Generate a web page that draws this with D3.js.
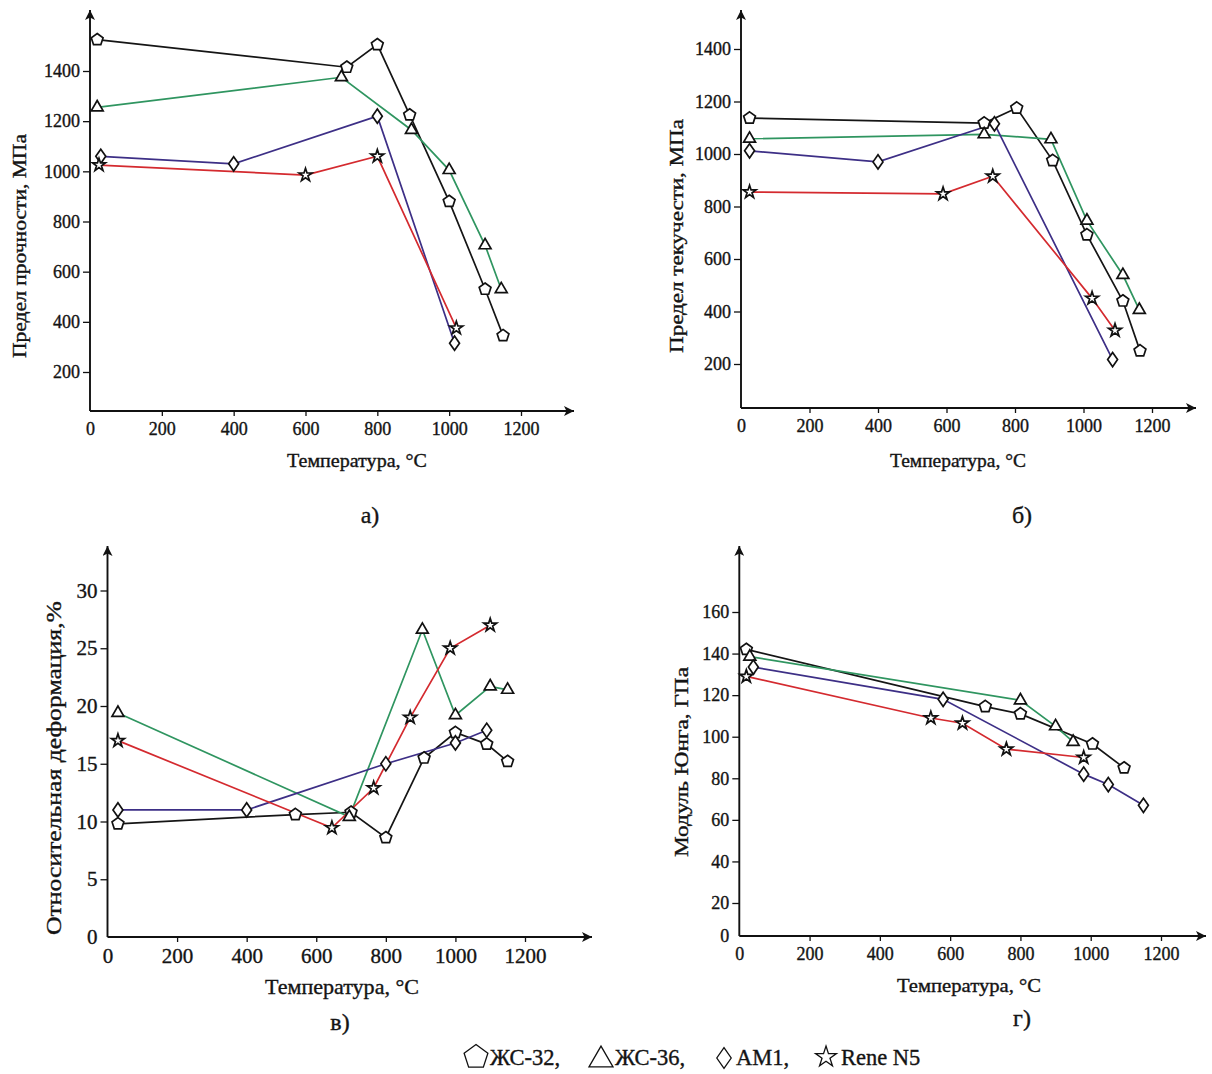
<!DOCTYPE html>
<html>
<head>
<meta charset="utf-8">
<script src="https://cdn.jsdelivr.net/npm/d3@7"></script>
<style>
  body { margin: 0; background: #fff; }
  svg { display: block; }
  text { font-family: "Liberation Serif", "Times New Roman", serif; fill: #141414; stroke: #141414; stroke-width: 0.35px; }
</style>
</head>
<body>
<svg id="fig" width="1212" height="1074"></svg>
<script>
// ---- data: [temperature °C, value] ----
const alloyNames = ["ЖС-32", "ЖС-36", "AM1", "Rene N5"];
const temperatureTicks = [0, 200, 400, 600, 800, 1000, 1200];
const strengthTicks = [200, 400, 600, 800, 1000, 1200, 1400];
const elongationTicks = [0, 5, 10, 15, 20, 25, 30];
const modulusTicks = [0, 20, 40, 60, 80, 100, 120, 140, 160];

// а) ultimate tensile strength, MPa
const utsZhs32 = [[20,1525],[715,1415],[800,1505],[890,1225],[1000,880],[1100,530],[1150,345]];
const utsZhs36 = [[20,1255],[700,1375],[895,1165],[1000,1005],[1100,705],[1145,530]];
const utsAm1   = [[30,1060],[400,1030],[800,1220],[1015,315]];
const utsReneN5 = [[25,1025],[600,985],[800,1060],[1020,375]];

// б) yield strength, MPa
const ysZhs32 = [[25,1137],[710,1118],[805,1175],[910,975],[1010,692],[1115,440],[1165,250]];
const ysZhs36 = [[25,1058],[710,1075],[905,1056],[1010,746],[1115,539],[1163,406]];
const ysAm1   = [[25,1012],[400,970],[740,1115],[1085,217]];
const ysReneN5 = [[25,855],[590,848],[735,915],[1025,450],[1092,328]];

// в) relative elongation, %
const elZhs32 = [[30,9.8],[540,10.6],[700,10.8],[800,8.6],[910,15.5],[1000,17.7],[1090,16.7],[1150,15.2]];
const elZhs36 = [[30,19.4],[695,10.4],[905,26.6],[1000,19.2],[1100,21.7],[1150,21.4]];
const elAm1   = [[30,11.0],[400,11.0],[800,15.0],[1000,16.8],[1090,17.9]];
const elReneN5 = [[30,17.0],[645,9.45],[765,12.9],[870,19.0],[985,25.0],[1100,27.0]];

// г) Young's modulus, GPa
const emZhs32 = [[20,142],[700,114.5],[800,111],[1005,96.5],[1095,85]];
const emZhs36 = [[30,138.5],[800,117.5],[900,105],[950,97.5]];
const emAm1   = [[40,133.5],[580,118],[980,82],[1050,77],[1150,67]];
const emReneN5 = [[20,129],[545,109],[635,106.5],[760,94],[980,90]];

// ---- styling ----
const lineColors = ["#151515", "#2f9560", "#3d2f86", "#d42a2f"];
const markerKinds = ["pentagon", "triangle", "diamond", "star"];

function markerPath(kind, r) {
  if (kind === "pentagon") {
    const pts = d3.range(5).map(i => {
      const a = -Math.PI / 2 + i * 2 * Math.PI / 5;
      return [r * Math.cos(a), r * Math.sin(a)];
    });
    return d3.line()(pts) + "Z";
  }
  if (kind === "diamond") {
    return d3.line()([[0, -r * 1.15], [r * 0.8, 0], [0, r * 1.15], [-r * 0.8, 0]]) + "Z";
  }
  if (kind === "triangle") {
    return d3.symbol(d3.symbolTriangle, r * r * 1.6)().toString();
  }
  return d3.symbol(d3.symbolStar, r * r * 1.35)().toString();
}

const svg = d3.select("#fig");
const defs = svg.append("defs");
defs.append("marker")
  .attr("id", "arrowhead").attr("viewBox", "0 0 10 10")
  .attr("refX", 10).attr("refY", 5)
  .attr("markerWidth", 10).attr("markerHeight", 10)
  .attr("markerUnits", "userSpaceOnUse")
  .attr("orient", "auto")
  .append("path").attr("d", "M0,0 L10,5 L0,10 L2.5,5 Z").attr("fill", "#111");

const panels = [
  { series: [utsZhs32, utsZhs36, utsAm1, utsReneN5], yTicks: strengthTicks,
    xRange: [90, 521], yDomain: [200, 1400], yRange: [372, 71], baseY: 411, topY: 10, rightX: 574,
    yTitle: "Предел прочности, МПа", yTitlePos: [22, 246], yTitleLen: 224,
    xTitlePos: [357, 467], xTitleLen: 140,
    caption: "а)", captionPos: [370, 523], tickFont: 18, titleFont: 18 },
  { series: [ysZhs32, ysZhs36, ysAm1, ysReneN5], yTicks: strengthTicks,
    xRange: [741, 1152], yDomain: [200, 1400], yRange: [364, 49], baseY: 408, topY: 10, rightX: 1196,
    yTitle: "Предел текучести, МПа", yTitlePos: [679, 236], yTitleLen: 234,
    xTitlePos: [958, 467], xTitleLen: 136,
    caption: "б)", captionPos: [1022, 523], tickFont: 18, titleFont: 18 },
  { series: [elZhs32, elZhs36, elAm1, elReneN5], yTicks: elongationTicks,
    xRange: [107.5, 525], yDomain: [0, 30], yRange: [937, 590.5], baseY: 937, topY: 546, rightX: 592,
    yTitle: "Относительная деформация,%", yTitlePos: [56, 768], yTitleLen: 334,
    xTitlePos: [342, 994], xTitleLen: 154,
    caption: "в)", captionPos: [340, 1030], tickFont: 21, titleFont: 21 },
  { series: [emZhs32, emZhs36, emAm1, emReneN5], yTicks: modulusTicks,
    xRange: [739.3, 1161], yDomain: [0, 20, 160], yRange: [936, 903, 612], baseY: 936, topY: 546, rightX: 1206,
    yTitle: "Модуль Юнга, ГПа", yTitlePos: [684, 762], yTitleLen: 190,
    xTitlePos: [969, 992], xTitleLen: 144,
    caption: "г)", captionPos: [1022, 1026], tickFont: 18, titleFont: 18 }
];

panels.forEach(p => {
  const x = d3.scaleLinear().domain([0, 1200]).range(p.xRange);
  const y = d3.scaleLinear().domain(p.yDomain).range(p.yRange);
  const g = svg.append("g");
  const x0 = x(0);

  // axes with arrows
  g.append("line").attr("x1", x0).attr("y1", p.baseY).attr("x2", x0).attr("y2", p.topY)
    .attr("stroke", "#111").attr("stroke-width", 1.9).attr("marker-end", "url(#arrowhead)");
  g.append("line").attr("x1", x0).attr("y1", p.baseY).attr("x2", p.rightX).attr("y2", p.baseY)
    .attr("stroke", "#111").attr("stroke-width", 1.9).attr("marker-end", "url(#arrowhead)");

  // x ticks
  const xa = g.append("g").attr("transform", `translate(0,${p.baseY})`)
    .call(d3.axisBottom(x).tickValues(temperatureTicks).tickSize(5).tickPadding(6).tickFormat(d3.format("d")));
  xa.select(".domain").remove();
  xa.selectAll("line").attr("stroke", "#111").attr("stroke-width", 1.3);
  xa.selectAll("text").attr("font-size", p.tickFont).attr("font-family", null).attr("fill", null);
  xa.selectAll(".tick").filter(d => d === 0).select("line").remove();

  // y ticks
  const ya = g.append("g").attr("transform", `translate(${x0},0)`)
    .call(d3.axisLeft(y).tickValues(p.yTicks).tickSize(7).tickPadding(3).tickFormat(d3.format("d")));
  ya.select(".domain").remove();
  ya.selectAll("line").attr("stroke", "#111").attr("stroke-width", 1.3);
  ya.selectAll("text").attr("font-size", p.tickFont).attr("font-family", null).attr("fill", null);
  ya.selectAll(".tick").filter(d => d === 0).select("line").remove();

  // titles
  g.append("text").attr("transform", `translate(${p.yTitlePos[0]},${p.yTitlePos[1]}) rotate(-90)`)
    .attr("text-anchor", "middle").attr("dominant-baseline", "middle")
    .attr("font-size", p.titleFont)
    .attr("textLength", p.yTitleLen).attr("lengthAdjust", "spacingAndGlyphs")
    .text(p.yTitle);
  g.append("text").attr("x", p.xTitlePos[0]).attr("y", p.xTitlePos[1])
    .attr("text-anchor", "middle").attr("font-size", p.titleFont)
    .attr("textLength", p.xTitleLen).attr("lengthAdjust", "spacingAndGlyphs")
    .text("Температура, °C");
  g.append("text").attr("x", p.captionPos[0]).attr("y", p.captionPos[1])
    .attr("text-anchor", "middle").attr("font-size", 24).text(p.caption);

  // series lines then markers
  const line = d3.line().x(d => x(d[0])).y(d => y(d[1]));
  p.series.forEach((s, i) => {
    g.append("path").datum(s).attr("d", line).attr("fill", "none")
      .attr("stroke", lineColors[i]).attr("stroke-width", 1.7);
  });
  p.series.forEach((s, i) => {
    g.append("g").selectAll("path").data(s).join("path")
      .attr("transform", d => `translate(${x(d[0])},${y(d[1])})`)
      .attr("d", markerPath(markerKinds[i], 6.2))
      .attr("fill", "#fff").attr("stroke", "#111").attr("stroke-width", 1.7);
  });
});

// legend
const legendPos = [
  { cx: 476, tx: 490, r: 12.5, cy: 1057 },
  { cx: 601, tx: 615, r: 12.5, cy: 1060 },
  { cx: 724, tx: 736, r: 9, cy: 1058 },
  { cx: 826, tx: 841, r: 10, cy: 1057 }
];
const legend = svg.append("g");
legendPos.forEach((it, i) => {
  legend.append("path")
    .attr("transform", `translate(${it.cx},${it.cy})`)
    .attr("d", markerPath(markerKinds[i], it.r))
    .attr("fill", "none").attr("stroke", "#111").attr("stroke-width", 1.3);
  legend.append("text").attr("x", it.tx).attr("y", 1065).attr("font-size", 22.5)
    .text(alloyNames[i] + (i < alloyNames.length - 1 ? "," : ""));
});
</script>
</body>
</html>
